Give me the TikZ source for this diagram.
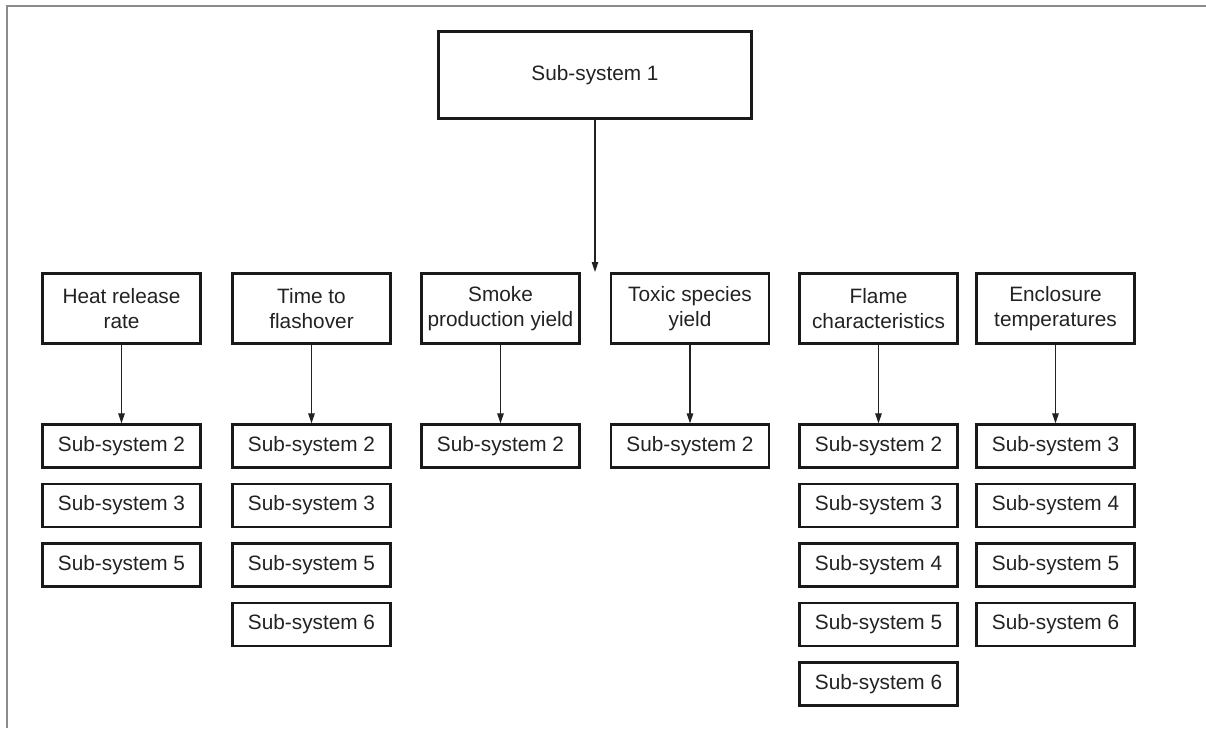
\documentclass[tikz,border=0pt]{standalone}
\usepackage{fontspec}
\setmainfont{Liberation Sans}
\usetikzlibrary{arrows.meta}
\definecolor{framegray}{HTML}{8C8C8C}
\definecolor{inkdark}{HTML}{222222}

\begin{document}
\begin{tikzpicture}[x=1pt, y=-1pt, line width=2.3pt,
    box/.style={draw=black!90, text=inkdark, align=center, inner sep=0pt,
                minimum width=158pt, font=\fontsize{20.8}{25}\selectfont},
    topbox/.style={box, minimum width=313pt, minimum height=87pt},
    parbox/.style={box, minimum height=70pt},
    subbox/.style={box, minimum height=43pt},
    link/.style={draw=inkdark, line width=1.2pt, -{Triangle[length=10pt, width=6.5pt]}}]

    \useasboundingbox (0,0) rectangle (1206,728);

    % cornice grigia (solo lati sopra e sinistra)
    \draw[framegray, line width=2pt] (1206,6) -- (7,6) -- (7,728);

    % Comando per una casella "Sub-system n": nome, x, y, numero
    \newcommand{\subsys}[4]{
        \node[subbox] (#1) at (#2,#3) {Sub-system #4};
    }

    % -- Livello superiore --
    \node[topbox] (top) at (595,75) {Sub-system 1};
    \coordinate (topend) at (595,272);
    \draw[link] (top.south) -- (topend);

    % -- Parametri --
    \node[parbox] (heat)  at (121.5,308.5) {Heat release\\rate};
    \node[parbox] (time)  at (311.5,308.5) {Time to\\flashover};
    \node[parbox] (smoke) at (500.5,308.5) {Smoke\\production yield};
    \node[parbox] (toxic) at (690,308.5)   {Toxic species\\yield};
    \node[parbox] (flame) at (878.5,308.5) {Flame\\characteristics};
    \node[parbox] (encl)  at (1055.5,308.5) {Enclosure\\temperatures};

    % -- Colonne dei sotto-sistemi --
    \subsys{heatA}{121.5}{446}{2}
    \subsys{heatB}{121.5}{505.5}{3}
    \subsys{heatC}{121.5}{565}{5}

    \subsys{timeA}{311.5}{446}{2}
    \subsys{timeB}{311.5}{505.5}{3}
    \subsys{timeC}{311.5}{565}{5}
    \subsys{timeD}{311.5}{624.5}{6}

    \subsys{smokeA}{500.5}{446}{2}

    \subsys{toxicA}{690}{446}{2}

    \subsys{flameA}{878.5}{446}{2}
    \subsys{flameB}{878.5}{505.5}{3}
    \subsys{flameC}{878.5}{565}{4}
    \subsys{flameD}{878.5}{624.5}{5}
    \subsys{flameE}{878.5}{684}{6}

    \subsys{enclA}{1055.5}{446}{3}
    \subsys{enclB}{1055.5}{505.5}{4}
    \subsys{enclC}{1055.5}{565}{5}
    \subsys{enclD}{1055.5}{624.5}{6}

    % frecce verso la prima casella di ogni colonna
    \draw[link] (heat)  -- (heatA);
    \draw[link] (time)  -- (timeA);
    \draw[link] (smoke) -- (smokeA);
    \draw[link] (toxic) -- (toxicA);
    \draw[link] (flame) -- (flameA);
    \draw[link] (encl)  -- (enclA);
\end{tikzpicture}
\end{document}
